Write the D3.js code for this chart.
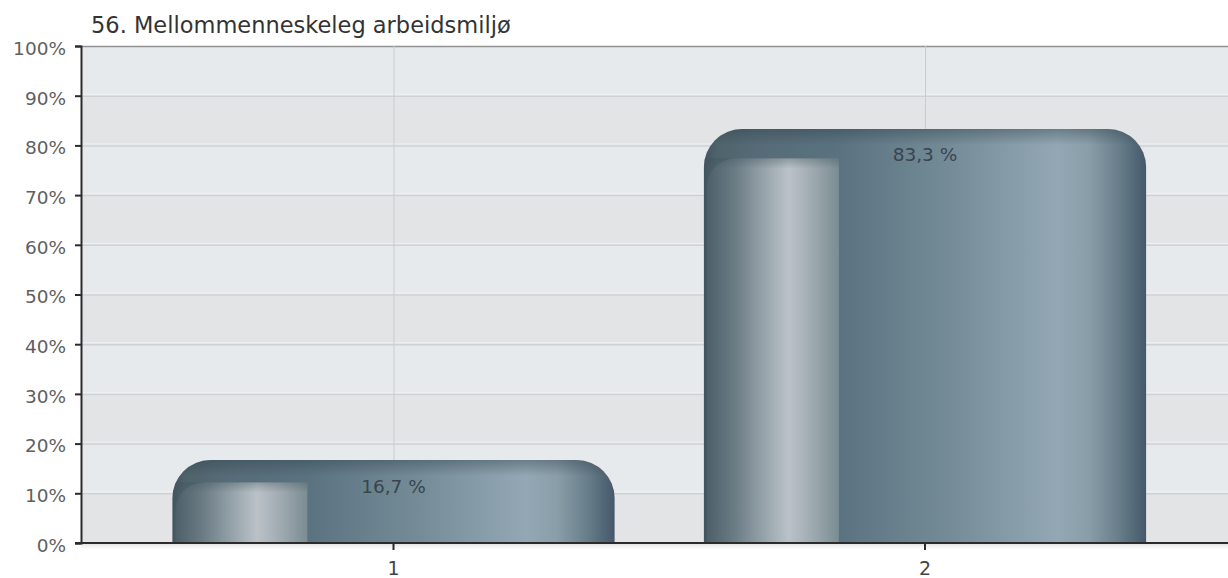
<!DOCTYPE html>
<html>
<head>
<meta charset="utf-8">
<script src="https://cdn.jsdelivr.net/npm/d3@7"></script>
<style>
  html, body { margin: 0; padding: 0; background: #ffffff; }
  svg { display: block; }
</style>
</head>
<body>
<svg id="chart" width="1228" height="578"></svg>
<script>
// ---- data ----
const title = "56. Mellommenneskeleg arbeidsmiljø";
const categories = ["1", "2"];
const values = [16.7, 83.3];
const valueLabels = ["16,7 %", "83,3 %"];
const yTicks = [0, 10, 20, 30, 40, 50, 60, 70, 80, 90, 100];

// ---- layout ----
const W = 1228, H = 578;
const plot = { left: 81, right: 1228, top: 46, bottom: 543 };
const svg = d3.select("#chart");
const FONT = "'DejaVu Sans', Verdana, sans-serif";

const y = d3.scaleLinear().domain([0, 100]).range([plot.bottom, plot.top]);
const x = d3.scaleBand().domain(categories).range([127.75, 1190.75])
  .paddingInner(0.168).paddingOuter(0.084);

const defs = svg.append("defs");
function lin(id, stops, vertical) {
  const g = defs.append("linearGradient").attr("id", id)
    .attr("x1", 0).attr("y1", 0)
    .attr("x2", vertical ? 0 : 1).attr("y2", vertical ? 1 : 0);
  stops.forEach(s => g.append("stop").attr("offset", s[0]).attr("stop-color", s[1])
    .attr("stop-opacity", s[2] === undefined ? 1 : s[2]));
}
lin("bodyGrad", [
  [0, "#42555f"], [0.03, "#4f636d"], [0.12, "#566b77"], [0.3, "#5a7280"],
  [0.55, "#748b97"], [0.8, "#93a8b4"], [0.87, "#8a9ea9"], [0.94, "#677d89"], [1, "#44586a"]
]);
lin("hiGrad", [
  [0, "#4d5f69"], [0.2, "#697a83"], [0.45, "#9aa6ad"], [0.62, "#bac2c8"],
  [0.78, "#a2adb3"], [1, "#7b8c93"]
]);
lin("topShade", [[0, "#2e3f48", 0.4], [1, "#2e3f48", 0]], true);
lin("hiTop", [[0, "#3e515b", 0.35], [1, "#3e515b", 0]], true);
lin("axisShadow", [[0, "#d8d8d8", 0.7], [1, "#ffffff", 0]], true);

// ---- plot background with alternating bands ----
const bandG = svg.append("g");
for (let i = 0; i < yTicks.length - 1; i++) {
  const lo = yTicks[i], hi = yTicks[i + 1];
  bandG.append("rect")
    .attr("x", plot.left).attr("width", plot.right - plot.left)
    .attr("y", y(hi)).attr("height", y(lo) - y(hi))
    .attr("fill", (i % 2 === 1) ? "#e7eaed" : "#e3e4e6");
}

// horizontal gridlines
svg.append("g").selectAll("line").data(yTicks.filter(d => d > 0 && d < 100)).join("line")
  .attr("x1", plot.left).attr("x2", plot.right)
  .attr("y1", d => y(d) + 0.5).attr("y2", d => y(d) + 0.5)
  .attr("stroke", "#cfd2d5").attr("stroke-width", 1.5);
svg.append("g").selectAll("line").data(yTicks.filter(d => d > 0 && d < 100)).join("line")
  .attr("x1", plot.left).attr("x2", plot.right)
  .attr("y1", d => y(d) - 1.5).attr("y2", d => y(d) - 1.5)
  .attr("stroke", "#eef0f2").attr("stroke-width", 1);

// top border
svg.append("line").attr("x1", plot.left).attr("x2", plot.right)
  .attr("y1", plot.top + 0.5).attr("y2", plot.top + 0.5)
  .attr("stroke", "#8f9193").attr("stroke-width", 1.5);

// vertical gridlines at category centres
svg.append("g").selectAll("line").data(categories).join("line")
  .attr("x1", d => x(d) + x.bandwidth() / 2 + 0.5).attr("x2", d => x(d) + x.bandwidth() / 2 + 0.5)
  .attr("y1", plot.top).attr("y2", plot.bottom)
  .attr("stroke", "#c9cbcd").attr("stroke-width", 1);

// ---- bars ----
function topRounded(x0, y0, w, h, r) {
  r = Math.min(r, h, w / 2);
  return `M${x0},${y0 + h} L${x0},${y0 + r} A${r},${r} 0 0 1 ${x0 + r},${y0} ` +
    `L${x0 + w - r},${y0} A${r},${r} 0 0 1 ${x0 + w},${y0 + r} L${x0 + w},${y0 + h} Z`;
}
function topLeftRounded(x0, y0, w, h, r) {
  r = Math.min(r, h, w);
  return `M${x0},${y0 + h} L${x0},${y0 + r} A${r},${r} 0 0 1 ${x0 + r},${y0} ` +
    `L${x0 + w},${y0} L${x0 + w},${y0 + h} Z`;
}
const barData = categories.map((c, i) => ({ c, v: values[i], label: valueLabels[i] }));
const bars = svg.append("g").selectAll("g").data(barData).join("g");
bars.each(function (d, i) {
  const g = d3.select(this);
  const bx = x(d.c), bw = x.bandwidth();
  const by = y(d.v), bh = y(0) - y(d.v);
  const shape = topRounded(bx, by, bw, bh, 38);
  defs.append("clipPath").attr("id", "clip" + i).append("path").attr("d", shape);
  g.append("path").attr("d", shape).attr("fill", "url(#bodyGrad)");
  const cg = g.append("g").attr("clip-path", `url(#clip${i})`);
  cg.append("rect").attr("x", bx).attr("y", by).attr("width", bw).attr("height", Math.min(bh, 16))
    .attr("fill", "url(#topShade)");
  const off = Math.min(29.5, bh * 0.27);
  const hiH = bh - off;
  cg.append("path").attr("d", topLeftRounded(bx + 3, by + off, 132, hiH, 28))
    .attr("fill", "url(#hiGrad)");
  cg.append("rect").attr("x", bx).attr("y", by + off).attr("width", 135).attr("height", 10)
    .attr("fill", "url(#hiTop)");
  g.append("text")
    .attr("x", bx + bw / 2).attr("y", by + 32.5)
    .attr("text-anchor", "middle")
    .attr("font-family", FONT).attr("font-size", 18.5)
    .attr("fill", "#37454e")
    .text(d.label);
});

// shadow below axis
svg.append("rect").attr("x", plot.left).attr("y", plot.bottom + 1)
  .attr("width", plot.right - plot.left).attr("height", 8).attr("fill", "url(#axisShadow)");

// ---- axes ----
const yAxis = d3.axisLeft(y).tickValues(yTicks).tickFormat(d => d + "%").tickSize(6).tickPadding(9);
const yg = svg.append("g").attr("transform", `translate(${plot.left},0)`).call(yAxis);
yg.select(".domain").attr("stroke", "#2b2b2b").attr("stroke-width", 2);
yg.selectAll(".tick line").attr("stroke", "#2b2b2b").attr("stroke-width", 2);
yg.selectAll(".tick text").attr("font-family", FONT).attr("font-size", 18.5)
  .attr("fill", "#5f5f5f").attr("dy", "0.45em");

const xAxis = d3.axisBottom(x).tickSize(7).tickPadding(12);
const xg = svg.append("g").attr("transform", `translate(0,${plot.bottom})`).call(xAxis);
xg.select(".domain").remove();
xg.append("line").attr("x1", 75).attr("x2", W).attr("y1", 0).attr("y2", 0)
  .attr("stroke", "#2b2b2b").attr("stroke-width", 2);
xg.selectAll(".tick line").attr("stroke", "#2b2b2b").attr("stroke-width", 2);
xg.selectAll(".tick text").attr("font-family", FONT).attr("font-size", 19)
  .attr("fill", "#444").attr("dy", "0.71em");

// ---- title ----
svg.append("text").attr("x", 91).attr("y", 33)
  .attr("font-family", FONT).attr("font-size", 22.5).attr("fill", "#333")
  .text(title);
</script>
</body>
</html>
